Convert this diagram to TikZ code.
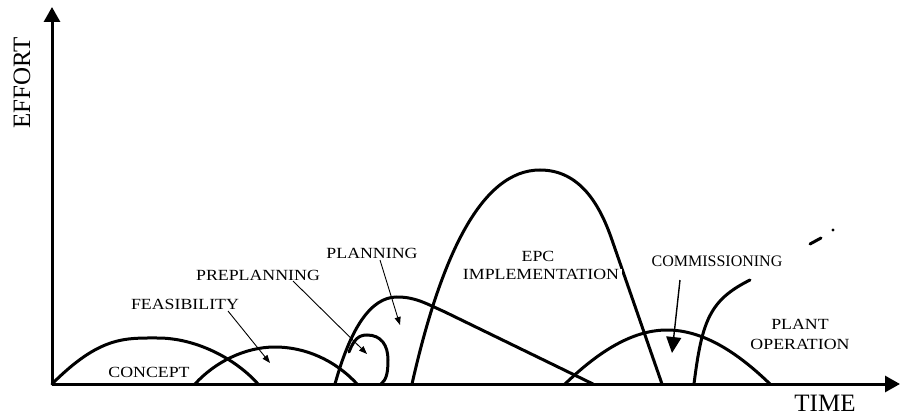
\documentclass[tikz,border=0pt]{standalone}
\usepackage{fontspec}
\setmainfont{Liberation Serif}
\newfontfamily\widefont{Liberation Serif}[FakeStretch=1.15]
\usepackage{tikz}
\usetikzlibrary{arrows.meta, positioning}

\tikzset{
  phase/.style={line width=3pt, line cap=round},
  axis/.style={line width=3pt, -{Triangle[length=15pt, width=16pt]}},
  lbl/.style={font=\widefont\fontsize{15.5}{20}\selectfont, inner sep=1pt, align=center},
  lblarrow/.style={line width=0.9pt, -{Triangle[length=8pt, width=6pt]}},
}

\begin{document}
\begin{tikzpicture}[x=1pt, y=-1pt]
    \useasboundingbox (0,0) rectangle (900,417);

    % axes
    \coordinate (origin) at (52,384);
    \coordinate (ytop) at (52,7);
    \coordinate (xend) at (900,384);
    \draw[axis] (origin) -- (ytop);
    \draw[axis] (origin) -- (xend);
    \node[font=\fontsize{25}{25}\selectfont, rotate=90, inner sep=0pt] (effort) at (22,83) {EFFORT};
    \node[font=\fontsize{25}{25}\selectfont, inner sep=0pt] (time) at (825,403) {TIME};

    % phase curves
    \draw[phase] (52,384) .. controls (100,336) and (125,338) .. (158,338)
                          .. controls (195,338) and (235,358) .. (258,384);
    \draw[phase] (195,384) .. controls (215,362) and (245,347) .. (275,347)
                           .. controls (305,347) and (335,360) .. (357,384);
    \draw[phase] (335,384) .. controls (350,330) and (370,297) .. (397,297)
                           .. controls (415,297) and (425,303) .. (445,312) -- (593,384);
    \draw[phase] (349,352) .. controls (354,339) and (359,335) .. (367,335)
                           .. controls (381,335) and (388,345) .. (388,360)
                           .. controls (388,374) and (386,380) .. (381,384);
    \draw[phase] (412,384) .. controls (440,260) and (480,170) .. (540,170)
                           .. controls (580,170) and (600,205) .. (612,240) -- (662,384);
    \draw[phase] (565,384) .. controls (595,355) and (630,330) .. (667,330)
                           .. controls (705,330) and (740,355) .. (770,384);
    \draw[phase] (694,384) .. controls (702,320) and (710,300) .. (750,280);
    % stray marks
    \draw[phase] (810,244) -- (821,238);
    \fill (833,230) circle (1.6pt);

    % labels
    \node[lbl] (concept) at (149,372) {CONCEPT};
    \node[lbl] (feas) at (185,304) {FEASIBILITY};
    \node[lbl] (preplan) at (258,275) {PREPLANNING};
    \node[lbl] (plan) at (372,253) {PLANNING};
    \node[lbl] (epc) at (538,256) {EPC};
    \node[lbl, fill=white, inner sep=0pt, inner xsep=2.5pt] (impl) at (541,274) {IMPLEMENTATION};
    \node[font=\fontsize{16}{16}\selectfont, inner sep=1pt] (comm) at (717,261) {COMMISSIONING};
    \node[lbl] (plant) at (800,334) {PLANT\\OPERATION};

    % label arrows
    \coordinate (feasTail) at (228,311);
    \coordinate (feasTip) at (270,363);
    \coordinate (preplanTail) at (293,281);
    \coordinate (preplanTip) at (367,354);
    \coordinate (planTail) at (380,260);
    \coordinate (planTip) at (400,325);
    \coordinate (commTail) at (680,280);
    \coordinate (commTip) at (672,353);
    \draw[lblarrow] (feasTail) -- (feasTip);
    \draw[lblarrow] (preplanTail) -- (preplanTip);
    \draw[lblarrow] (planTail) -- (planTip);
    \draw[line width=1.4pt, -{Triangle[length=16pt, width=15pt]}] (commTail) -- (commTip);
\end{tikzpicture}
\end{document}
